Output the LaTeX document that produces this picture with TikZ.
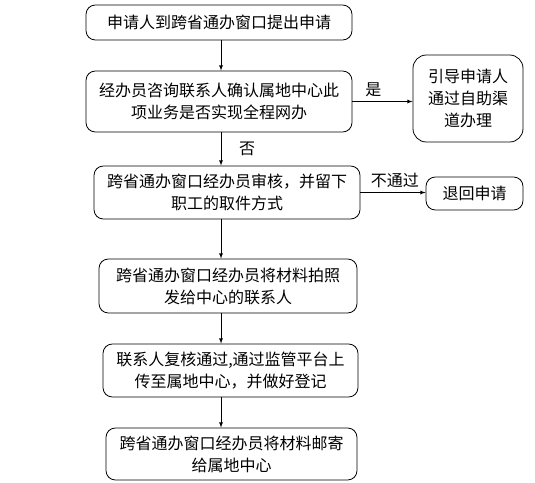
\documentclass[tikz,border=0pt]{standalone}
\usepackage{fontspec}
\setmainfont{Noto Sans CJK SC}
\usetikzlibrary{arrows}

\begin{document}
\begin{tikzpicture}[x=0.75pt,y=-0.75pt,>=latex,
      every node/.style={font=\fontsize{12}{16.5}\selectfont},
      box/.style={draw,rounded corners=7pt,align=center,inner sep=0pt,line width=0.6pt}]
      \useasboundingbox (0,0) rectangle (535,482);
      \coordinate (spine) at (221,0);
      \node at (219,22.5)[box,minimum width=199.5pt,minimum height=26.25pt] (b1){申请人到跨省通办窗口提出申请};
      \node at (219,101.5)[box,minimum width=199.5pt,minimum height=45.75pt] (b2){经办员咨询联系人确认属地中心此\\项业务是否实现全程网办};
      \node at (227,192.5)[box,minimum width=199.5pt,minimum height=39.75pt] (b3){跨省通办窗口经办员审核，并留下\\职工的取件方式};
      \node at (228,286)[box,minimum width=193.5pt,minimum height=40.5pt] (b4){跨省通办窗口经办员将材料拍照\\发给中心的联系人};
      \node at (230.5,370.5)[box,minimum width=191.25pt,minimum height=39.75pt] (b5){联系人复核通过,通过监管平台上\\传至属地中心，并做好登记};
      \node at (231.5,454)[box,minimum width=188.25pt,minimum height=39pt] (b6){跨省通办窗口经办员将材料邮寄\\给属地中心};
      \node at (468,98.5)[box,rounded corners=10pt,minimum width=82.5pt,minimum height=65.25pt] (guide){引导申请人\\通过自助渠\\道办理};
      \node at (474.5,193.5)[box,minimum width=72.75pt,minimum height=24.75pt] (reject){退回申请};
      \draw[->] (b1.south -| spine) -- (b2.north -| spine);
      \draw[->] (b2.south -| spine) -- node[right=10pt]{否} (b3.north -| spine);
      \draw[->] (b3.south -| spine) -- (b4.north -| spine);
      \draw[->] (b4.south -| spine) -- (b5.north -| spine);
      \draw[->] (b5.south -| spine) -- (b6.north -| spine);
      \draw[->] (b2.east) -- node[pos=0.35,above]{是} (b2.east -| guide.west);
      \draw[->] (b3.east) -- node[pos=0.53,above]{不通过} (b3.east -| reject.west);
\end{tikzpicture}
\end{document}
